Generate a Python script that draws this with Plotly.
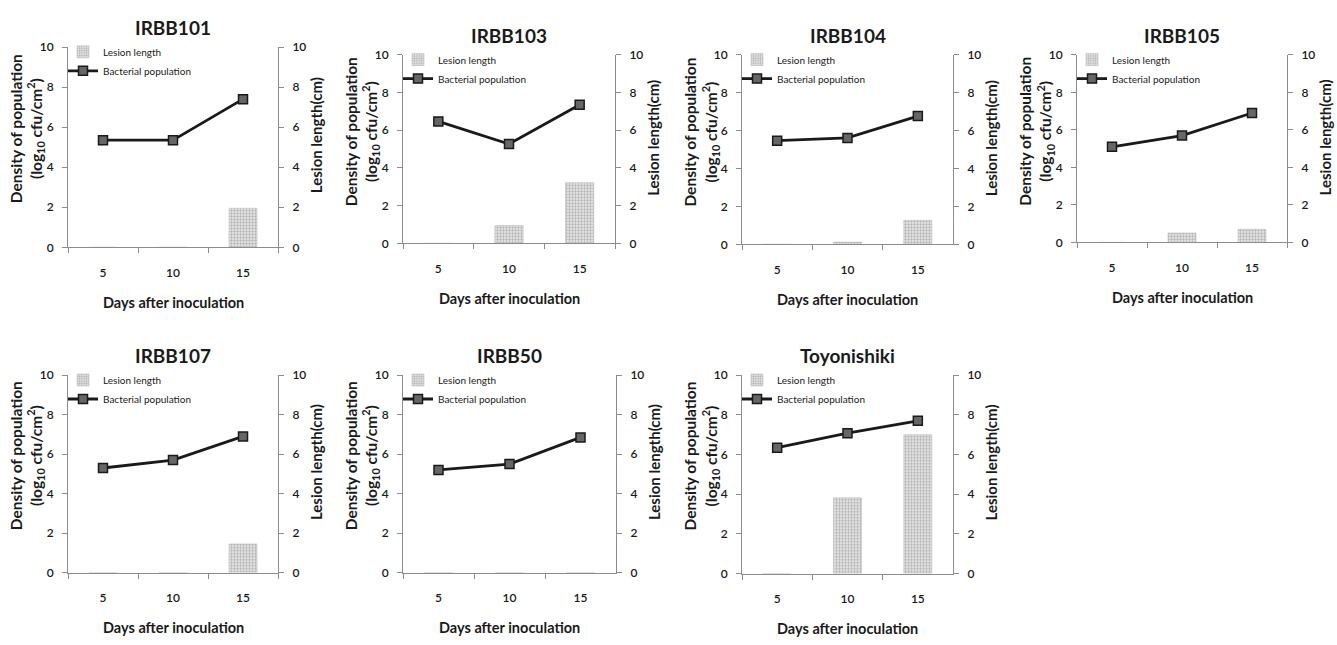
import plotly.graph_objects as go

# ---------------- data ----------------
days = ["5", "10", "15"]
varieties = ["IRBB101", "IRBB103", "IRBB104", "IRBB105", "IRBB107", "IRBB50", "Toyonishiki"]

pop_irbb101 = [5.35, 5.35, 7.4]
lesion_irbb101 = [0, 0, 1.95]
pop_irbb103 = [6.47, 5.27, 7.35]
lesion_irbb103 = [0, 0.95, 3.22]
pop_irbb104 = [5.47, 5.62, 6.77]
lesion_irbb104 = [0, 0.12, 1.27]
pop_irbb105 = [5.1, 5.7, 6.9]
lesion_irbb105 = [0, 0.5, 0.7]
pop_irbb107 = [5.3, 5.7, 6.9]
lesion_irbb107 = [0, 0, 1.45]
pop_irbb50 = [5.2, 5.5, 6.85]
lesion_irbb50 = [0, 0, 0]
pop_toyo = [6.35, 7.08, 7.7]
lesion_toyo = [0, 3.82, 7.0]

populations = [pop_irbb101, pop_irbb103, pop_irbb104, pop_irbb105, pop_irbb107, pop_irbb50, pop_toyo]
lesions = [lesion_irbb101, lesion_irbb103, lesion_irbb104, lesion_irbb105, lesion_irbb107, lesion_irbb50, lesion_toyo]

# ---------------- layout geometry ----------------
W, H = 1337, 645
# plot areas in screen pixels: left, right, top, bottom
boxes = [(68, 278, 40, 245), (403, 615, 48, 241), (742, 953, 48, 242), (1077, 1287, 48, 240),
         (68, 278, 376, 578), (403, 616, 376, 578), (742, 953, 376, 579)]

FONT = "Lato"
AX = "#8c8c8c"
TXT = "#1a1a1a"

fig = go.Figure()
layout = dict(width=W, height=H, autosize=False, margin=dict(l=0, r=0, t=0, b=0, pad=0),
              paper_bgcolor="white", plot_bgcolor="white", showlegend=True,
              font=dict(family=FONT, color=TXT), barmode="overlay")
annotations = []


def px_x(p):
    return p / W


def px_y(p):
    return 1 - p / H


for i, name in enumerate(varieties):
    k = i + 1
    l, r, t, b = boxes[i]
    xa = "x" if k == 1 else f"x{k}"
    ybar_n = 2 * k - 1
    yline_n = 2 * k
    ybar = "y" if ybar_n == 1 else f"y{ybar_n}"
    yline = f"y{yline_n}"
    leg = "legend" if k == 1 else f"legend{k}"

    fig.add_trace(go.Bar(
        x=days, y=lesions[i], xaxis=xa, yaxis=ybar, name="Lesion length", legend=leg,
        width=0.4,
        marker=dict(color="#e0e0e0",
                    pattern=dict(shape=".", fgcolor="#7a7a7a", bgcolor="#eeeeee", size=3, solidity=0.5),
                    line=dict(color="#bdbdbd", width=0.6)),
    ))
    fig.add_trace(go.Scatter(
        x=days, y=populations[i], xaxis=xa, yaxis=yline, mode="lines+markers",
        name="Bacterial population", legend=leg,
        line=dict(color="#1a1a1a", width=2.8),
        marker=dict(symbol="square", size=9, color="#666666", line=dict(color="#1a1a1a", width=1.5)),
    ))

    xkey = "xaxis" if k == 1 else f"xaxis{k}"
    ybkey = "yaxis" if ybar_n == 1 else f"yaxis{ybar_n}"
    ylkey = f"yaxis{yline_n}"
    tickfont = dict(family=FONT, size=12, color=TXT, weight=600)
    layout[xkey] = dict(domain=[px_x(l), px_x(r)], anchor=ybar, type="category",
                        range=[-0.5, 2.5], tickson="boundaries", ticks="outside", ticklen=5,
                        tickcolor=AX, showline=True, linecolor=AX, linewidth=1,
                        showgrid=False, zeroline=False, tickfont=tickfont,
                        ticklabelstandoff=14, fixedrange=True)
    layout[ybkey] = dict(domain=[px_y(b), px_y(t)], anchor=xa, side="right", range=[0, 10],
                         dtick=2, ticks="outside", ticklen=5, tickcolor=AX, showline=True,
                         linecolor=AX, linewidth=1, showgrid=False, zeroline=False,
                         tickfont=tickfont, ticklabelstandoff=6, fixedrange=True)
    layout[ylkey] = dict(overlaying=ybar, anchor=xa, side="left", range=[0, 10],
                         dtick=2, ticks="outside", ticklen=5, tickcolor=AX, showline=True,
                         linecolor=AX, linewidth=1, showgrid=False, zeroline=False,
                         tickfont=tickfont, ticklabelstandoff=6, fixedrange=True)
    layout[leg] = dict(x=px_x(l - 5), y=px_y(t - 10), xanchor="left", yanchor="top",
                       bgcolor="rgba(0,0,0,0)", font=dict(family=FONT, size=10, color=TXT),
                       itemwidth=30, tracegroupgap=0, traceorder="normal")

    cx = (l + r) / 2
    annotations.append(dict(text=f"<b>{name}</b>", x=px_x(cx), y=px_y(t - 20), xref="paper", yref="paper",
                            showarrow=False, font=dict(family=FONT, size=19, color=TXT),
                            xanchor="center", yanchor="middle"))
    annotations.append(dict(text="<b>Days after inoculation</b>", x=px_x(cx), y=px_y(b + 56),
                            xref="paper", yref="paper", showarrow=False,
                            font=dict(family=FONT, size=14.5, color=TXT), xanchor="center", yanchor="middle"))
    annotations.append(dict(text="<b>Density of population<br>(log<sub>10</sub> cfu/cm<sup>2</sup>)</b>",
                            x=px_x(l - 41), y=px_y(t + 0.41 * (b - t)), xref="paper", yref="paper",
                            showarrow=False, textangle=-90, font=dict(family=FONT, size=15.5, color=TXT),
                            xanchor="center", yanchor="middle"))
    annotations.append(dict(text="<b>Lesion length(cm)</b>",
                            x=px_x(r + 38), y=px_y(t + 0.44 * (b - t)), xref="paper", yref="paper",
                            showarrow=False, textangle=-90, font=dict(family=FONT, size=15, color=TXT),
                            xanchor="center", yanchor="middle"))

layout["annotations"] = annotations
fig.update_layout(**layout)
fig.write_html(
    "out.html",
    config={"displayModeBar": False},
    post_script="document.body.style.margin='0';document.body.style.overflow='hidden';",
)
